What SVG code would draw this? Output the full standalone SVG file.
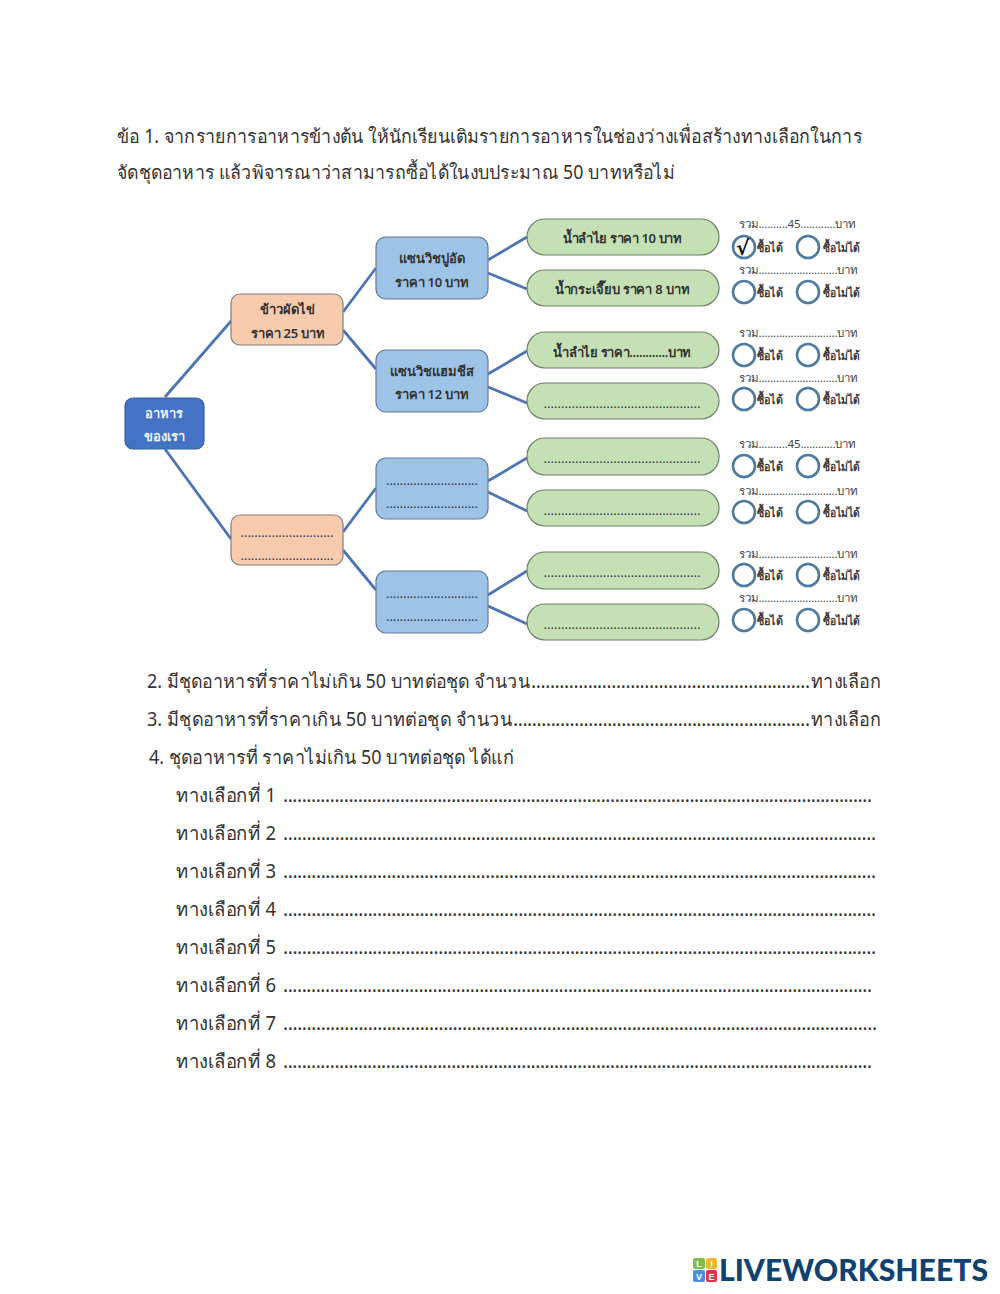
<svg xmlns="http://www.w3.org/2000/svg" width="1000" height="1294" viewBox="0 0 1000 1294">
<style>
text{font-family:"Noto Sans","DejaVu Sans","Liberation Sans",sans-serif;fill:#222}
.b{font-size:19px;fill:#333}
.n{font-size:13px;text-anchor:middle;fill:#333;font-weight:600}
.dt{font-size:13px;text-anchor:middle;fill:#33384a;font-weight:400}
.s{font-size:11.5px;fill:#444}
.c{font-size:12px;fill:#3a3a3a;font-weight:600}
.root{fill:#4472c4;stroke:#3a5f9f;stroke-width:1.2}
.o{fill:#f8cbad;stroke:#7f7f7f;stroke-width:1.2}
.bl{fill:#9dc3e6;stroke:#64799a;stroke-width:1.2}
.g{fill:#c5e0b4;stroke:#6f7f6a;stroke-width:1.2}
.r{fill:none;stroke:#4f7a9c;stroke-width:2.6}
#connectors path{fill:none;stroke:#4f74b3;stroke-width:2.8}
.chk{font-family:"DejaVu Sans",sans-serif;font-size:20px;fill:#111;font-weight:700}
.logo{font-family:"Lato","Liberation Sans",sans-serif;font-weight:900;font-size:31px;fill:#0f4270}
.lt{font-family:"Liberation Sans",sans-serif;font-weight:700;font-size:9px;fill:#fff;text-anchor:middle}
</style>
<defs>
<g id="pick">
<circle cx="13" cy="0" r="11" class="r"/>
<text class="c" x="26" y="5" textLength="26" lengthAdjust="spacingAndGlyphs">ซื้อได้</text>
<circle cx="77" cy="0" r="11" class="r"/>
<text class="c" x="92" y="5" textLength="37" lengthAdjust="spacingAndGlyphs">ซื้อไม่ได้</text>
</g>
</defs>
<g id="question">
<text class="b" x="117" y="143" textLength="745" lengthAdjust="spacingAndGlyphs">ข้อ 1. จากรายการอาหารข้างต้น ให้นักเรียนเติมรายการอาหารในช่องว่างเพื่อสร้างทางเลือกในการ</text>
<text class="b" x="117" y="179" textLength="558" lengthAdjust="spacingAndGlyphs">จัดชุดอาหาร แล้วพิจารณาว่าสามารถซื้อได้ในงบประมาณ 50 บาทหรือไม่</text>
</g>
<g id="connectors">
<path d="M165 397L232 320M165 449L231 539"/>
<path d="M343 312L376 268M343 330L376 369M343 532L376 488M343 550L376 590"/>
<path d="M488 260L527 237M488 273L527 289M488 374L527 351M488 387L527 403M488 481L527 458M488 492L527 511M488 595L527 571M488 606L527 624"/>
</g>
<g id="root"><rect class="root" x="125" y="398" width="79" height="51" rx="8"/><text class="n" style="fill:#eef2fa" x="164" y="418">อาหาร</text><text class="n" style="fill:#eef2fa" x="164" y="441">ของเรา</text></g>
<g id="n1"><rect class="o" x="231" y="294" width="112" height="51" rx="9"/><text class="n" x="287" y="314">ข้าวผัดไข่</text><text class="n" x="288" y="338" textLength="74">ราคา 25 บาท</text></g>
<g id="n2"><rect class="o" x="231" y="515" width="112" height="50" rx="9"/><text class="dt" x="287" y="537" textLength="93">...........................</text><text class="dt" x="287" y="560" textLength="93">...........................</text></g>
<g id="n3"><rect class="bl" x="376" y="237" width="112" height="62" rx="10"/><text class="n" x="432" y="263">แซนวิชปูอัด</text><text class="n" x="432" y="287" textLength="74">ราคา 10 บาท</text></g>
<g id="n4"><rect class="bl" x="376" y="350" width="112" height="62" rx="10"/><text class="n" x="432" y="376">แซนวิชแฮมชีส</text><text class="n" x="432" y="399" textLength="74">ราคา 12 บาท</text></g>
<g id="n5"><rect class="bl" x="376" y="458" width="112" height="61" rx="10"/><text class="dt" x="432" y="485" textLength="92">...........................</text><text class="dt" x="432" y="508" textLength="92">...........................</text></g>
<g id="n6"><rect class="bl" x="376" y="571" width="112" height="62" rx="10"/><text class="dt" x="432" y="598" textLength="92">...........................</text><text class="dt" x="432" y="621" textLength="92">...........................</text></g>
<g id="d1"><rect class="g" x="527" y="219" width="192" height="36" rx="18"/><text class="n" x="622" y="243" textLength="119">น้ำลำไย ราคา 10 บาท</text></g>
<g id="d2"><rect class="g" x="527" y="270" width="192" height="36" rx="18"/><text class="n" x="622" y="294" textLength="135">น้ำกระเจี๊ยบ ราคา 8 บาท</text></g>
<g id="d3"><rect class="g" x="527" y="332" width="192" height="36" rx="18"/><text class="n" x="622" y="357" textLength="138">น้ำลำไย ราคา............บาท</text></g>
<g id="d4"><rect class="g" x="527" y="383" width="192" height="36" rx="18"/><text class="dt" x="622" y="408" textLength="157">.............................................</text></g>
<g id="d5"><rect class="g" x="527" y="438" width="192" height="37" rx="18"/><text class="dt" x="622" y="463" textLength="157">.............................................</text></g>
<g id="d6"><rect class="g" x="527" y="490" width="192" height="36" rx="18"/><text class="dt" x="622" y="515" textLength="157">.............................................</text></g>
<g id="d7"><rect class="g" x="527" y="552" width="192" height="37" rx="18"/><text class="dt" x="622" y="577" textLength="157">.............................................</text></g>
<g id="d8"><rect class="g" x="527" y="604" width="192" height="36" rx="18"/><text class="dt" x="622" y="629" textLength="157">.............................................</text></g>
<g id="totals">
<text class="s" x="739" y="228" textLength="117">รวม..........45............บาท</text>
<text class="s" x="739" y="274" textLength="119">รวม...........................บาท</text>
<text class="s" x="739" y="337" textLength="119">รวม...........................บาท</text>
<text class="s" x="739" y="382" textLength="119">รวม...........................บาท</text>
<text class="s" x="739" y="448" textLength="117">รวม..........45............บาท</text>
<text class="s" x="739" y="495" textLength="119">รวม...........................บาท</text>
<text class="s" x="739" y="558" textLength="119">รวม...........................บาท</text>
<text class="s" x="739" y="602" textLength="119">รวม...........................บาท</text>
</g>
<g id="choices">
<use href="#pick" x="731" y="247"/>
<use href="#pick" x="731" y="292"/>
<use href="#pick" x="731" y="355"/>
<use href="#pick" x="731" y="399"/>
<use href="#pick" x="731" y="466"/>
<use href="#pick" x="731" y="512"/>
<use href="#pick" x="731" y="575"/>
<use href="#pick" x="731" y="620"/>
<text class="chk" x="736" y="255">√</text>
</g>
<g id="answers">
<text class="b" x="147" y="688" textLength="383" lengthAdjust="spacingAndGlyphs">2. มีชุดอาหารที่ราคาไม่เกิน 50 บาทต่อชุด จำนวน</text>
<text class="b" x="531" y="688" textLength="279" lengthAdjust="spacing">...........................................................</text>
<text class="b" x="811" y="688" textLength="70" lengthAdjust="spacingAndGlyphs">ทางเลือก</text>
<text class="b" x="147" y="726" textLength="365" lengthAdjust="spacingAndGlyphs">3. มีชุดอาหารที่ราคาเกิน 50 บาทต่อชุด จำนวน</text>
<text class="b" x="513" y="726" textLength="297" lengthAdjust="spacing">...............................................................</text>
<text class="b" x="811" y="726" textLength="70" lengthAdjust="spacingAndGlyphs">ทางเลือก</text>
<text class="b" x="149" y="764" textLength="365" lengthAdjust="spacingAndGlyphs">4. ชุดอาหารที่ ราคาไม่เกิน 50 บาทต่อชุด ได้แก่</text>
<text class="b" x="176" y="802" textLength="100" lengthAdjust="spacingAndGlyphs">ทางเลือกที่ 1</text><text class="b" x="283" y="802" textLength="589">..............................................................................................................................</text>
<text class="b" x="176" y="840" textLength="100" lengthAdjust="spacingAndGlyphs">ทางเลือกที่ 2</text><text class="b" x="283" y="840" textLength="593">..............................................................................................................................</text>
<text class="b" x="176" y="878" textLength="100" lengthAdjust="spacingAndGlyphs">ทางเลือกที่ 3</text><text class="b" x="283" y="878" textLength="593">..............................................................................................................................</text>
<text class="b" x="176" y="916" textLength="100" lengthAdjust="spacingAndGlyphs">ทางเลือกที่ 4</text><text class="b" x="283" y="916" textLength="593">..............................................................................................................................</text>
<text class="b" x="176" y="954" textLength="100" lengthAdjust="spacingAndGlyphs">ทางเลือกที่ 5</text><text class="b" x="283" y="954" textLength="593">..............................................................................................................................</text>
<text class="b" x="176" y="992" textLength="100" lengthAdjust="spacingAndGlyphs">ทางเลือกที่ 6</text><text class="b" x="283" y="992" textLength="589">..............................................................................................................................</text>
<text class="b" x="176" y="1030" textLength="100" lengthAdjust="spacingAndGlyphs">ทางเลือกที่ 7</text><text class="b" x="283" y="1030" textLength="594">..............................................................................................................................</text>
<text class="b" x="176" y="1068" textLength="100" lengthAdjust="spacingAndGlyphs">ทางเลือกที่ 8</text><text class="b" x="283" y="1068" textLength="589">..............................................................................................................................</text>
</g>
<g id="logo">
<rect x="693" y="1258" width="12" height="11" rx="2" fill="#7cc04b"/><rect x="706" y="1258" width="11" height="11" rx="2" fill="#f6b52a"/>
<rect x="693" y="1270" width="12" height="12" rx="2" fill="#4a90d9"/><rect x="706" y="1270" width="11" height="12" rx="2" fill="#e5304f"/>
<text class="lt" x="699" y="1267">L</text><text class="lt" x="711.500" y="1267">I</text><text class="lt" x="699" y="1279.500">V</text><text class="lt" x="711.500" y="1279.500">E</text>
<text class="logo" x="719" y="1281" textLength="269" lengthAdjust="spacingAndGlyphs">LIVEWORKSHEETS</text>
</g>
</svg>
